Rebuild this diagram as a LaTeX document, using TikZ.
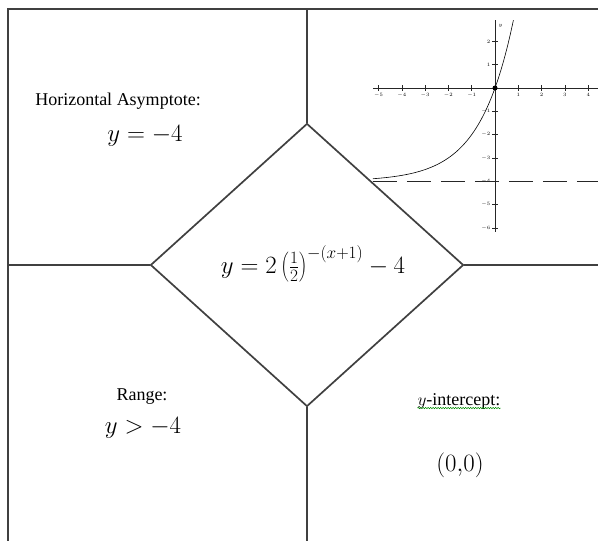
\documentclass[tikz,border=0pt]{standalone}
\usepackage{fontspec}
\setmainfont{Liberation Serif}
\usetikzlibrary{shapes.geometric, positioning, decorations.pathmorphing}

\begin{document}
\begin{tikzpicture}[
    x=1pt, y=-1pt,
    frame/.style={draw=black!75, line width=1.7pt},
    cellText/.style={font=\fontsize{18}{21}\selectfont, inner sep=0pt},
    cellMath/.style={font=\fontsize{23}{26}\selectfont, inner sep=0pt},
    axisline/.style={draw=black!85, line width=0.8pt},
    ticklbl/.style={font=\fontsize{5.5}{6}\selectfont, inner sep=1pt},
    curve/.style={draw=black, line width=0.6pt},
    asymline/.style={draw=black!85, line width=1.1pt, dash pattern=on 24pt off 10pt}
]
    \useasboundingbox (0,0) rectangle (598,541);

    % frame and cross
    \coordinate (tl) at (8,9);
    \coordinate (tr) at (598,9);
    \coordinate (bl) at (8,541);
    \coordinate (tm) at (307,9);
    \coordinate (bm) at (307,541);
    \coordinate (ml) at (8,265);
    \coordinate (mr) at (598,265);
    \node (dia) [diamond, frame, minimum width=313pt, minimum height=283pt, inner sep=0pt] at (307,265) {};
    \draw [frame] (bl) -- (tl) -- (tr);
    \draw [frame] (tm) -- (dia.north);
    \draw [frame] (dia.south) -- (bm);
    \draw [frame] (ml) -- (dia.west);
    \draw [frame] (dia.east) -- (mr);

    % texts
    \node (eq) [font=\fontsize{25}{28}\selectfont, inner sep=0pt] at (313,264) {$y = 2\left(\frac{1}{2}\right)^{-(x+1)} - 4$};
    \node (asym) [cellText] at (118,101) {Horizontal Asymptote:};
    \node (asymval) [cellMath] at (145,136) {$y = -4$};
    \node (range) [cellText] at (142,397) {Range:};
    \node (rangeval) [cellMath] at (143,428) {$y > -4$};
    \node (yint) [cellText] at (459,401) {$y$-intercept:};
    \node (yintval) [cellMath] at (460,465) {$\bigl(0{,}0\bigr)$};
    \draw [decorate, decoration={snake, amplitude=0.7pt, segment length=2.5pt}, green!55!black, line width=0.5pt]
        ([yshift=-3pt]yint.base west) -- ([yshift=-3pt]yint.base east);

    % graph
    \begin{scope}[shift={(495,88)}, x=23.3pt, y=23.3pt]
        \coordinate (O) at (0,0);
        \coordinate (xl) at (-5.24,0);
        \coordinate (xr) at (4.42,0);
        \coordinate (yt) at (0,2.92);
        \coordinate (yb) at (0,-6.18);
        \draw [axisline] (xl) -- (xr);
        \draw [axisline] (yb) -- (yt);
        \foreach \i in {-5,-4,-3,-2,-1,1,2,3,4} {
            \draw [axisline, line width=0.6pt] (\i,-0.12) -- (\i,0.12);
            \node (xt\i) [ticklbl, below] at (\i,-0.18) {$\i$};
        }
        \foreach \j in {-6,-5,-4,-3,-2,-1,1,2} {
            \draw [axisline, line width=0.6pt] (-0.12,\j) -- (0.12,\j);
            \node (yt\j) [ticklbl, left] at (-0.15,\j) {$\j$};
        }
        \node (ylab) [ticklbl, right] at (0.1,2.65) {$y$};
        \coordinate (al) at (-5.24,-4);
        \coordinate (ar) at (4.42,-4);
        \draw [asymline] (al) -- (ar);
        \draw [curve] plot[domain=-5.24:0.79, samples=80, smooth] (\x, {pow(2,\x+2)-4});
        \fill (O) circle (2.5pt);
    \end{scope}
\end{tikzpicture}
\end{document}
